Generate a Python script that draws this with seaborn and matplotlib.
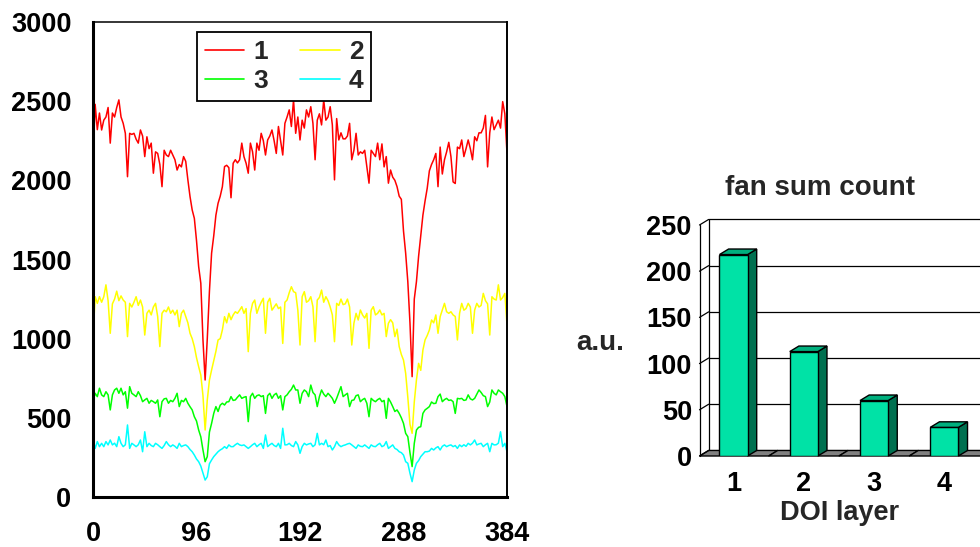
import numpy as np
import pandas as pd
import matplotlib
matplotlib.use("Agg")
import matplotlib.pyplot as plt
import seaborn as sns
from matplotlib.patches import Polygon

# ---------------- data ----------------
channel = list(range(0, 385, 2))

layer1 = [
    2150, 2480, 2320, 2425, 2318, 2380, 2400, 2460, 2235, 2425,
    2400, 2460, 2508, 2400, 2360, 2297, 2023, 2297, 2290, 2297,
    2260, 2235, 2318, 2280, 2150, 2275, 2200, 2235, 2045, 2180,
    2170, 2100, 1960, 2190, 2160, 2150, 2190, 2160, 2130, 2065,
    2100, 2085, 2150, 2120, 2003, 1897, 1813, 1760, 1620, 1455,
    1350, 992, 739, 1000, 1300, 1540, 1650, 1780, 1855, 1900,
    1960, 2087, 2095, 2080, 1890, 2108, 2130, 2110, 2130, 2235,
    2150, 2108, 2045, 2235, 2180, 2065, 2235, 2190, 2297, 2250,
    2160, 2255, 2280, 2318, 2250, 2170, 2340, 2250, 2160, 2360,
    2400, 2445, 2340, 2508, 2297, 2400, 2255, 2380, 2330, 2445,
    2400, 2465, 2360, 2130, 2380, 2420, 2350, 2508, 2380, 2400,
    2465, 2350, 2003, 2390, 2255, 2300, 2262, 2262, 2280, 2360,
    2130, 2190, 2297, 2160, 2180, 2170, 2190, 2085, 1982, 2190,
    2170, 2150, 2235, 2130, 2230, 2085, 2150, 1982, 2065, 2020,
    2000, 1960, 1900, 1880, 1680, 1540, 1360, 1100, 760, 1250,
    1360, 1520, 1650, 1780, 1870, 1950, 2060, 2100, 2130, 2170,
    1960, 2210, 2040, 2130, 2180, 2240, 2150, 1990, 1980, 2210,
    2200, 2255, 2150, 2200, 2255, 2200, 2130, 2275, 2250, 2300,
    2300, 2330, 2410, 2085, 2300, 2400, 2320, 2350, 2380, 2330,
    2497, 2420, 2170]

layer2 = [
    1013, 1265, 1223, 1265, 1230, 1265, 1340, 1240, 1034, 1220,
    1250, 1300, 1240, 1270, 1244, 1230, 1013, 1223, 1200, 1230,
    1265, 1210, 1244, 1200, 1023, 1160, 1180, 1150, 1200, 1223,
    1139, 950, 1160, 1180, 1170, 1200, 1160, 1180, 1150, 1180,
    1076, 1160, 1180, 1140, 1100, 1034, 1000, 950, 880, 823,
    770, 640, 423, 613, 739, 802, 860, 920, 992, 1000,
    1055, 1139, 1100, 1160, 1120, 1150, 1170, 1160, 1180, 1202,
    1160, 1190, 918, 1160, 1223, 1244, 1160, 1200, 1230, 1255,
    1034, 1230, 1255, 1180, 1200, 1220, 1190, 1200, 970, 1230,
    1244, 1290, 1328, 1297, 1290, 1180, 960, 1265, 1297, 1230,
    1240, 1265, 1202, 981, 1244, 1260, 1307, 1230, 1265, 1240,
    1200, 1150, 981, 1223, 1210, 1250, 1215, 1220, 1250, 1200,
    960, 1097, 1160, 1118, 1181, 1150, 1130, 1160, 939, 1180,
    1202, 1150, 1160, 1181, 1150, 1160, 1013, 1097, 1120, 1100,
    1013, 1060, 950, 900, 865, 781, 630, 460, 402, 600,
    739, 844, 800, 928, 992, 1020, 1055, 1118, 1100, 1150,
    1034, 1139, 1180, 1223, 1170, 1160, 1170, 1150, 1140, 992,
    1160, 1223, 1180, 1190, 1223, 1200, 1034, 1181, 1223, 1200,
    1210, 1286, 1240, 1220, 1023, 1265, 1250, 1244, 1340, 1244,
    1260, 1286, 1086]

layer3 = [
    602, 655, 634, 687, 645, 634, 665, 645, 550, 645,
    676, 687, 655, 687, 645, 665, 561, 697, 655, 645,
    634, 665, 640, 602, 613, 623, 592, 610, 602, 592,
    613, 507, 602, 620, 623, 592, 610, 602, 623, 655,
    571, 610, 602, 623, 592, 570, 550, 507, 480, 423,
    380, 297, 223, 255, 410, 465, 528, 571, 540, 580,
    592, 581, 600, 602, 634, 610, 613, 630, 645, 623,
    630, 634, 476, 634, 655, 623, 640, 645, 634, 640,
    528, 640, 655, 623, 645, 655, 623, 640, 550, 634,
    645, 665, 680, 707, 676, 676, 592, 655, 676, 665,
    634, 707, 660, 645, 571, 634, 676, 650, 634, 655,
    640, 623, 592, 623, 660, 697, 634, 645, 655, 571,
    610, 613, 640, 645, 602, 615, 623, 592, 507, 623,
    610, 602, 615, 623, 602, 610, 497, 623, 600, 571,
    540, 550, 528, 500, 465, 402, 381, 280, 192, 339,
    423, 440, 444, 528, 550, 560, 571, 600, 590, 592,
    634, 650, 602, 615, 623, 610, 613, 602, 528, 623,
    620, 623, 610, 613, 645, 620, 613, 623, 650, 676,
    660, 640, 634, 571, 600, 676, 655, 645, 676, 665,
    655, 634, 571]

layer4 = [
    360, 307, 350, 318, 339, 318, 350, 329, 360, 329,
    340, 318, 381, 339, 318, 330, 455, 307, 339, 329,
    318, 330, 360, 286, 412, 318, 339, 325, 318, 339,
    330, 318, 307, 325, 350, 330, 318, 329, 320, 307,
    339, 318, 325, 329, 318, 300, 286, 265, 240, 223,
    195, 150, 107, 128, 210, 234, 255, 270, 286, 297,
    305, 318, 307, 329, 318, 318, 330, 339, 329, 325,
    329, 318, 307, 318, 330, 339, 318, 330, 339, 307,
    392, 318, 330, 339, 325, 318, 339, 307, 434, 329,
    330, 339, 325, 318, 350, 329, 276, 318, 339, 329,
    335, 339, 318, 330, 402, 329, 339, 330, 360, 318,
    325, 297, 318, 350, 329, 318, 325, 329, 335, 339,
    329, 318, 307, 329, 320, 318, 329, 318, 307, 329,
    320, 318, 330, 339, 318, 325, 350, 307, 318, 329,
    307, 300, 286, 280, 265, 223, 213, 150, 97, 170,
    213, 230, 255, 270, 286, 286, 290, 307, 297, 310,
    318, 297, 320, 329, 318, 325, 329, 318, 325, 307,
    329, 318, 330, 320, 339, 329, 340, 360, 329, 335,
    339, 318, 330, 339, 286, 339, 329, 330, 340, 412,
    318, 339, 286]

layer_names = ["1", "2", "3", "4"]
line_colors = ["#FF0000", "#FFFF00", "#00FF00", "#00FFFF"]
x_ticks = [0, 96, 192, 288, 384]
y_ticks = [0, 500, 1000, 1500, 2000, 2500, 3000]

doi_layers = ["1", "2", "3", "4"]
fan_sum = [218, 113, 60, 31]
bar_ticks = [0, 50, 100, 150, 200, 250]

# ---------------- style ----------------
sns.set_style("white")
plt.rcParams["font.family"] = ["Liberation Sans", "DejaVu Sans"]
plt.rcParams["font.weight"] = "bold"

W, H = 980, 547
fig = plt.figure(figsize=(W / 100, H / 100), dpi=100)

# ---------------- left: profiles ----------------
ax1 = fig.add_axes([93 / W, 50 / H, 414 / W, 475 / H])
series = [layer1, layer2, layer3, layer4]
long = pd.DataFrame({
    "channel": channel * 4,
    "count": sum(series, []),
    "layer": sum([[nm] * len(channel) for nm in layer_names], []),
})
sns.lineplot(data=long, x="channel", y="count", hue="layer",
             hue_order=layer_names, palette=line_colors, estimator=None,
             legend=False, lw=1.1, ax=ax1)
ax1.set_xlim(0, 384)
ax1.set_ylim(0, 3000)
ax1.set_xticks(x_ticks)
ax1.set_yticks(y_ticks)
ax1.set_xlabel("")
ax1.set_ylabel("")
ax1.tick_params(direction="in", length=6, width=1.5, labelsize=19.5,
                top=False, right=False, colors="black")
ax1.tick_params(axis="y", pad=15.5)
ax1.tick_params(axis="x", pad=17)
for s, lw in (("left", 2.2), ("bottom", 2.2), ("top", 1.1), ("right", 1.4)):
    ax1.spines[s].set_linewidth(lw)
    ax1.spines[s].set_color("black")

lines = ax1.get_lines()[:4]
# two columns filled column-wise: rows read "1 2" / "3 4"
order = [0, 2, 1, 3]
leg = ax1.legend([lines[i] for i in order], [layer_names[i] for i in order],
                 ncol=2, loc="upper left",
                 bbox_to_anchor=(0.251, 0.979), fontsize=19,
                 frameon=True, fancybox=False, edgecolor="black",
                 framealpha=1, handlelength=1.5, handletextpad=0.35,
                 columnspacing=1.2, borderpad=0.3, labelspacing=0.2,
                 borderaxespad=0)
leg.get_frame().set_linewidth(1.3)
for ln in leg.get_lines():
    ln.set_linewidth(1.2)

# ---------------- right: 3D-looking bar chart ----------------
x_left, x_right = -0.484, 3.6
ax2 = fig.add_axes([699.5 / W, 91 / H, 287 / W, 231 / H])
front_c, top_c, side_c = "#00E2A6", "#00B07E", "#007050"
sns.barplot(x=doi_layers, y=fan_sum, color=front_c, saturation=1,
            width=0.4, edgecolor="black", linewidth=1.0, ax=ax2, zorder=4)
bars = list(ax2.patches)
ax2.set_xlim(x_left, x_right)
ax2.set_ylim(0, 250)
ax2.patch.set_visible(False)
for s in ax2.spines.values():
    s.set_visible(False)

dx, dy = 0.13, 6.0
# floor slab segments
edges = [x_left, 0.5, 1.5, 2.5, x_right + 0.3]
for a, b in zip(edges[:-1], edges[1:]):
    ax2.add_patch(Polygon([(a, 0), (b, 0), (b + dx, dy), (a + dx, dy)],
                          closed=True, fc="#808080", ec="black", lw=1.0,
                          zorder=1, clip_on=False))
# walls and gridlines
ax2.plot([x_left, x_left], [0, 250], color="black", lw=0.9, zorder=2, clip_on=False)
ax2.plot([x_left + dx, x_left + dx], [dy, 250 + dy], color="black", lw=0.9,
         zorder=2, clip_on=False)
for v in bar_ticks:
    ax2.plot([x_left, x_left + dx], [v, v + dy], color="black", lw=0.9,
             zorder=2, clip_on=False)
    if v > 0:
        ax2.plot([x_left + dx, x_right + 0.3], [v + dy, v + dy], color="black",
                 lw=0.9, zorder=2, clip_on=False)
# bar top and side faces
for p in bars:
    x0, w, h = p.get_x(), p.get_width(), p.get_height()
    ax2.add_patch(Polygon([(x0 + w, 0), (x0 + w + dx, dy), (x0 + w + dx, h + dy), (x0 + w, h)],
                          closed=True, fc=side_c, ec="black", lw=1.0, zorder=3,
                          clip_on=False))
    ax2.add_patch(Polygon([(x0, h), (x0 + w, h), (x0 + w + dx, h + dy), (x0 + dx, h + dy)],
                          closed=True, fc=top_c, ec="black", lw=1.0, zorder=5,
                          clip_on=False))

ax2.set_yticks(bar_ticks)
ax2.tick_params(length=0, labelsize=19.5, colors="black")
ax2.tick_params(axis="y", pad=5.5)
ax2.tick_params(axis="x", pad=11)
ax2.set_xlabel("DOI layer", fontsize=19.5, fontweight="bold")
ax2.xaxis.set_label_coords(0.4895, -0.245)
ax2.xaxis.label.set_va("center")
ax2.set_ylabel("a.u.", fontsize=20, fontweight="bold", rotation=0,
               ha="center", va="center")
ax2.yaxis.set_label_coords(-0.347, 0.489)
ax2.set_title("fan sum count", fontsize=20, fontweight="bold",
              x=0.42, y=1.16, va="center", pad=0)

fig.savefig("out.png", dpi=100)
